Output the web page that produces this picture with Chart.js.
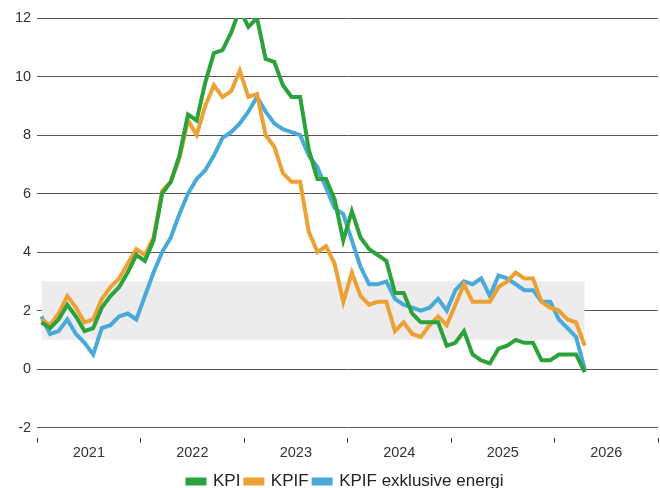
<!DOCTYPE html>
<html lang="sv">
<head>
<meta charset="utf-8">
<script src="https://cdn.jsdelivr.net/npm/chart.js@4"></script>
<style>
  html, body { margin: 0; padding: 0; background: #fff; }
  #wrap { width: 660px; height: 488px; }
</style>
</head>
<body>
<div id="wrap"><canvas id="inflationChart"></canvas></div>
<script>
// monthly values, Jan 2021 - Apr 2026
const years = ['2021', '2022', '2023', '2024', '2025', '2026'];
const kpi = [
  1.6, 1.4, 1.7, 2.2, 1.8, 1.3, 1.4, 2.1, 2.5, 2.8, 3.3, 3.9,
  3.7, 4.4, 6.0, 6.4, 7.3, 8.7, 8.5, 9.8, 10.8, 10.9, 11.5, 12.3,
  11.7, 12.0, 10.6, 10.5, 9.7, 9.3, 9.3, 7.5, 6.5, 6.5, 5.8, 4.4,
  5.4, 4.5, 4.1, 3.9, 3.7, 2.6, 2.6, 1.9, 1.6, 1.6, 1.6, 0.8,
  0.9, 1.3, 0.5, 0.3, 0.2, 0.7, 0.8, 1.0, 0.9, 0.9, 0.3, 0.3,
  0.5, 0.5, 0.5, -0.1
];
const kpif = [
  1.7, 1.5, 1.9, 2.5, 2.1, 1.6, 1.7, 2.4, 2.8, 3.1, 3.6, 4.1,
  3.9, 4.5, 6.1, 6.4, 7.2, 8.5, 8.0, 9.0, 9.7, 9.3, 9.5, 10.2,
  9.3, 9.4, 8.0, 7.6, 6.7, 6.4, 6.4, 4.7, 4.0, 4.2, 3.6, 2.3,
  3.3, 2.5, 2.2, 2.3, 2.3, 1.3, 1.6, 1.2, 1.1, 1.5, 1.8, 1.5,
  2.2, 2.9, 2.3, 2.3, 2.3, 2.8, 3.0, 3.3, 3.1, 3.1, 2.3, 2.1,
  2.0, 1.7, 1.6, 0.8
];
const kpifXe = [
  1.8, 1.2, 1.3, 1.7, 1.2, 0.9, 0.5, 1.4, 1.5, 1.8, 1.9, 1.7,
  2.5, 3.3, 4.0, 4.5, 5.3, 6.0, 6.5, 6.8, 7.3, 7.9, 8.1, 8.4,
  8.8, 9.3, 8.8, 8.4, 8.2, 8.1, 8.0, 7.3, 6.9, 6.2, 5.5, 5.3,
  4.4, 3.5, 2.9, 2.9, 3.0, 2.4, 2.2, 2.1, 2.0, 2.1, 2.4, 2.0,
  2.7, 3.0, 2.9, 3.1, 2.5, 3.2, 3.1, 2.9, 2.7, 2.7, 2.3, 2.3,
  1.7, 1.4, 1.1, 0.0
];
const yTicks = [-2, 0, 2, 4, 6, 8, 10, 12];
const targetLow = 1;
const targetHigh = 3;

const toPoints = arr => arr.map((v, i) => ({ x: i, y: v }));
const band = kpi.map((v, i) => ({ x: i, y: targetHigh }));
const font = 'Liberation Sans, Arial, sans-serif';

// nudge the legend a bit right/down like in the original
const legendNudge = {
  id: 'legendNudge',
  afterLayout(c) {
    const l = c.legend;
    l.left += 11; l.right += 11;
    l.top += 4; l.bottom += 4;
  }
};

const ctx = document.getElementById('inflationChart').getContext('2d');
const chart = new Chart(ctx, {
  type: 'line',
  data: {
    datasets: [
      { label: 'KPI', data: toPoints(kpi), borderColor: '#2ca23a', backgroundColor: '#2ca23a', order: 1 },
      { label: 'KPIF', data: toPoints(kpif), borderColor: '#eba133', backgroundColor: '#eba133', order: 2 },
      { label: 'KPIF exklusive energi', data: toPoints(kpifXe), borderColor: '#49a9d9', backgroundColor: '#49a9d9', order: 3 },
      {
        label: 'target', data: band, borderWidth: 0, borderColor: 'rgba(0,0,0,0)',
        backgroundColor: '#eeebec', fill: { target: { value: targetLow } }, order: 10
      }
    ]
  },
  options: {
    responsive: true,
    maintainAspectRatio: false,
    animation: false,
    layout: { padding: { left: 9, right: 0, top: 18, bottom: -8 } },
    elements: {
      point: { radius: 0 },
      line: { borderWidth: 4, tension: 0 }
    },
    scales: {
      x: {
        type: 'linear',
        min: -0.5,
        max: years.length * 12 - 0.5,
        afterBuildTicks: axis => {
          const t = [];
          years.forEach((y, k) => {
            t.push({ value: k * 12 - 0.5 });
            t.push({ value: k * 12 + 5.5 });
          });
          t.push({ value: years.length * 12 - 0.5 });
          axis.ticks = t;
        },
        ticks: {
          autoSkip: false,
          maxRotation: 0,
          padding: 2,
          color: '#333',
          font: { family: font, size: 14.5 },
          callback: value => {
            const k = (value - 5.5) / 12;
            return Number.isInteger(k) ? years[k] : '';
          }
        },
        grid: {
          drawOnChartArea: false,
          tickLength: 5,
          tickColor: c => Number.isInteger((c.tick.value + 0.5) / 12) ? '#333' : 'rgba(0,0,0,0)'
        },
        border: { display: false }
      },
      y: {
        min: -2.34,
        max: 12,
        afterBuildTicks: axis => { axis.ticks = yTicks.map(v => ({ value: v })); },
        ticks: {
          padding: 6,
          color: '#333',
          font: { family: font, size: 14.5 }
        },
        grid: { color: '#555', lineWidth: 1, drawTicks: false },
        border: { display: false }
      }
    },
    plugins: {
      tooltip: { enabled: false },
      legend: {
        display: true,
        position: 'bottom',
        labels: {
          filter: item => item.text !== 'target',
          boxWidth: 17,
          boxHeight: 4,
          padding: 5,
          color: '#222',
          font: { family: font, size: 17 }
        }
      }
    }
  },
  plugins: [legendNudge]
});
</script>
</body>
</html>
